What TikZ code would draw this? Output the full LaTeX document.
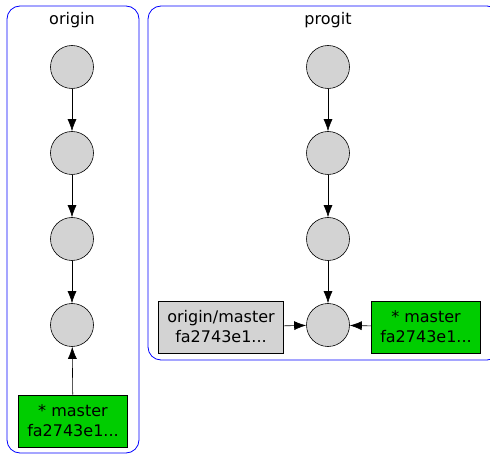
\documentclass[tikz,border=0pt]{standalone}
\usepackage{fontspec}
\setmainfont{DejaVu Sans}
\usepackage{tikz}
\usetikzlibrary{arrows.meta,positioning}

\definecolor{commitgray}{HTML}{D3D3D3}
\definecolor{branchgreen}{HTML}{00CD00}

\begin{document}
\begin{tikzpicture}[->,
            >={Latex[length=12pt,width=9pt]},
            x=1pt, y=-1pt,
            node distance=86pt,
            semithick,
            font=\fontsize{16}{20}\selectfont,
            commit/.style={circle, draw, fill=commitgray, minimum size=43pt, inner sep=0pt},
            branch/.style={rectangle, draw, align=center, minimum height=52pt, inner xsep=9pt},
            cluster/.style={draw=blue, rounded corners=13pt, thick}]

        \useasboundingbox (0,0) rectangle (490,454);

        % repositories
        \draw[-, cluster] (7,6) rectangle (139,453);
        \draw[-, cluster] (148,6) rectangle (500,360);
        \node (otitle) at (72,20)  {origin};
        \node (ptitle) at (328,20) {progit};

        % origin
        \node[commit] (o1) at (72,67)   {};
        \node[commit] (o2) [below of=o1] {};
        \node[commit] (o3) [below of=o2] {};
        \node[commit] (o4) [below of=o3] {};
        \node[branch, fill=branchgreen] (omaster) at (73,421) {* master\\fa2743e1...};

        % progit
        \node[commit] (p1) at (328,67)  {};
        \node[commit] (p2) [below of=p1] {};
        \node[commit] (p3) [below of=p2] {};
        \node[commit] (p4) [below of=p3] {};
        \node[branch, fill=commitgray]  (porigin) at (221,327) {origin/master\\fa2743e1...};
        \node[branch, fill=branchgreen] (pmaster) at (426,327) {* master\\fa2743e1...};

        \path (o1) edge (o2)
              (o2) edge (o3)
              (o3) edge (o4)
              (omaster) edge (o4)
              (p1) edge (p2)
              (p2) edge (p3)
              (p3) edge (p4)
              (porigin) edge (p4)
              (pmaster) edge (p4);

    \end{tikzpicture}
\end{document}
